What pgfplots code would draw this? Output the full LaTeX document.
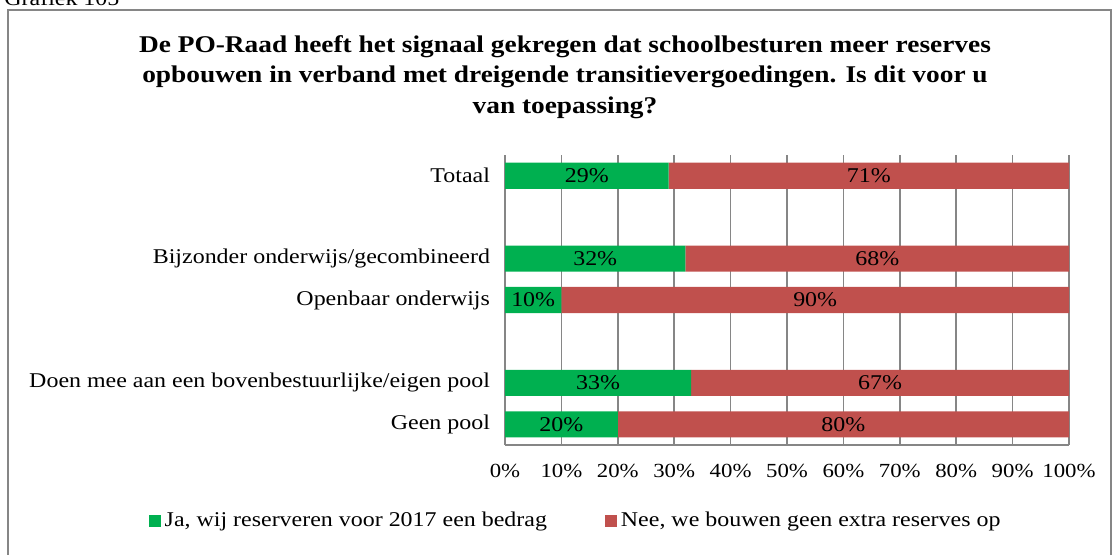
\documentclass[border=0pt]{standalone}
\usepackage{fontspec}
\setmainfont{Liberation Serif}[FakeStretch=1.14]
\usepackage{pgfplots}
\pgfplotsset{compat=1.18}
\definecolor{ja}{HTML}{00B050}
\definecolor{nee}{HTML}{C0504D}
\definecolor{gridg}{HTML}{868686}
\pgfplotstableread{
y ja nee
0 29 71
2 32 68
3 10 90
5 33 67
6 20 80
}\datatab
\pgfplotstableread{
x y lab
14.5 0 29\%
64.5 0 71\%
16 2 32\%
66 2 68\%
5 3 10\%
55 3 90\%
16.5 5 33\%
66.5 5 67\%
10 6 20\%
60 6 80\%
}\labtab
\begin{document}
\begin{tikzpicture}[x=0.5pt,y=-0.5pt]
\useasboundingbox (0,0) rectangle (1112,554);
\draw[gridg, line width=0.8pt] (8,10) rectangle (1111,600);
\node[anchor=base west, font=\fontsize{10.5}{12}\selectfont, inner sep=0pt] at (4,5) {Grafiek 105};
\node[align=center, font=\bfseries\fontsize{12}{15.3}\selectfont] at (565,77)
  {De PO-Raad heeft het signaal gekregen dat schoolbesturen meer reserves\\
   opbouwen in verband met dreigende transitievergoedingen. Is dit voor u\\
   van toepassing?};
\begin{axis}[
  at={(252.5pt,-222.5pt)}, anchor=south west,
  scale only axis, width=282pt, height=145pt,
  xbar stacked, bar width=0.63,
  xmin=0, xmax=100, ymin=-0.5, ymax=6.5, y dir=reverse,
  axis x line*=bottom, axis y line*=left,
  axis line style={draw=gridg, line width=0.8pt, -},
  xmajorgrids, grid style={draw=gridg, line width=0.8pt},
  major tick length=0pt,
  xtick={0,10,...,100},
  xticklabels={0\%,10\%,20\%,30\%,40\%,50\%,60\%,70\%,80\%,90\%,100\%},
  ytick={0,2,3,5,6},
  yticklabels={Totaal,Bijzonder onderwijs/gecombineerd,Openbaar onderwijs,Doen mee aan een bovenbestuurlijke/eigen pool,Geen pool},
  tick label style={font=\fontsize{10.5}{12}\selectfont},
  xticklabel style={yshift=-6pt, font=\fontsize{10}{12}\selectfont},
  yticklabel style={xshift=-4pt},
  legend style={at={(0.127,-0.262)}, anchor=center, legend columns=2, draw=none,
    font=\fontsize{10.5}{12}\selectfont,
    /tikz/every even column/.append style={column sep=27pt}},
  legend image code/.code={\fill[#1] (0pt,-3pt) rectangle (6pt,3pt);},
]
\addplot[fill=ja, draw=none] table[x=ja, y=y] {\datatab};
\addlegendentry{Ja, wij reserveren voor 2017 een bedrag}
\addplot[fill=nee, draw=none] table[x=nee, y=y] {\datatab};
\addlegendentry{Nee, we bouwen geen extra reserves op}
\end{axis}
\begin{axis}[
  at={(252.5pt,-222.5pt)}, anchor=south west,
  scale only axis, width=282pt, height=145pt,
  xmin=0, xmax=100, ymin=-0.5, ymax=6.5, y dir=reverse,
  hide axis,
]
\addplot[draw=none, mark=none, nodes near coords, point meta=explicit symbolic,
  every node near coord/.append style={anchor=center, font=\fontsize{10.5}{12}\selectfont, inner sep=0pt}]
  table[x=x, y=y, meta=lab] {\labtab};
\end{axis}
\end{tikzpicture}
\end{document}
